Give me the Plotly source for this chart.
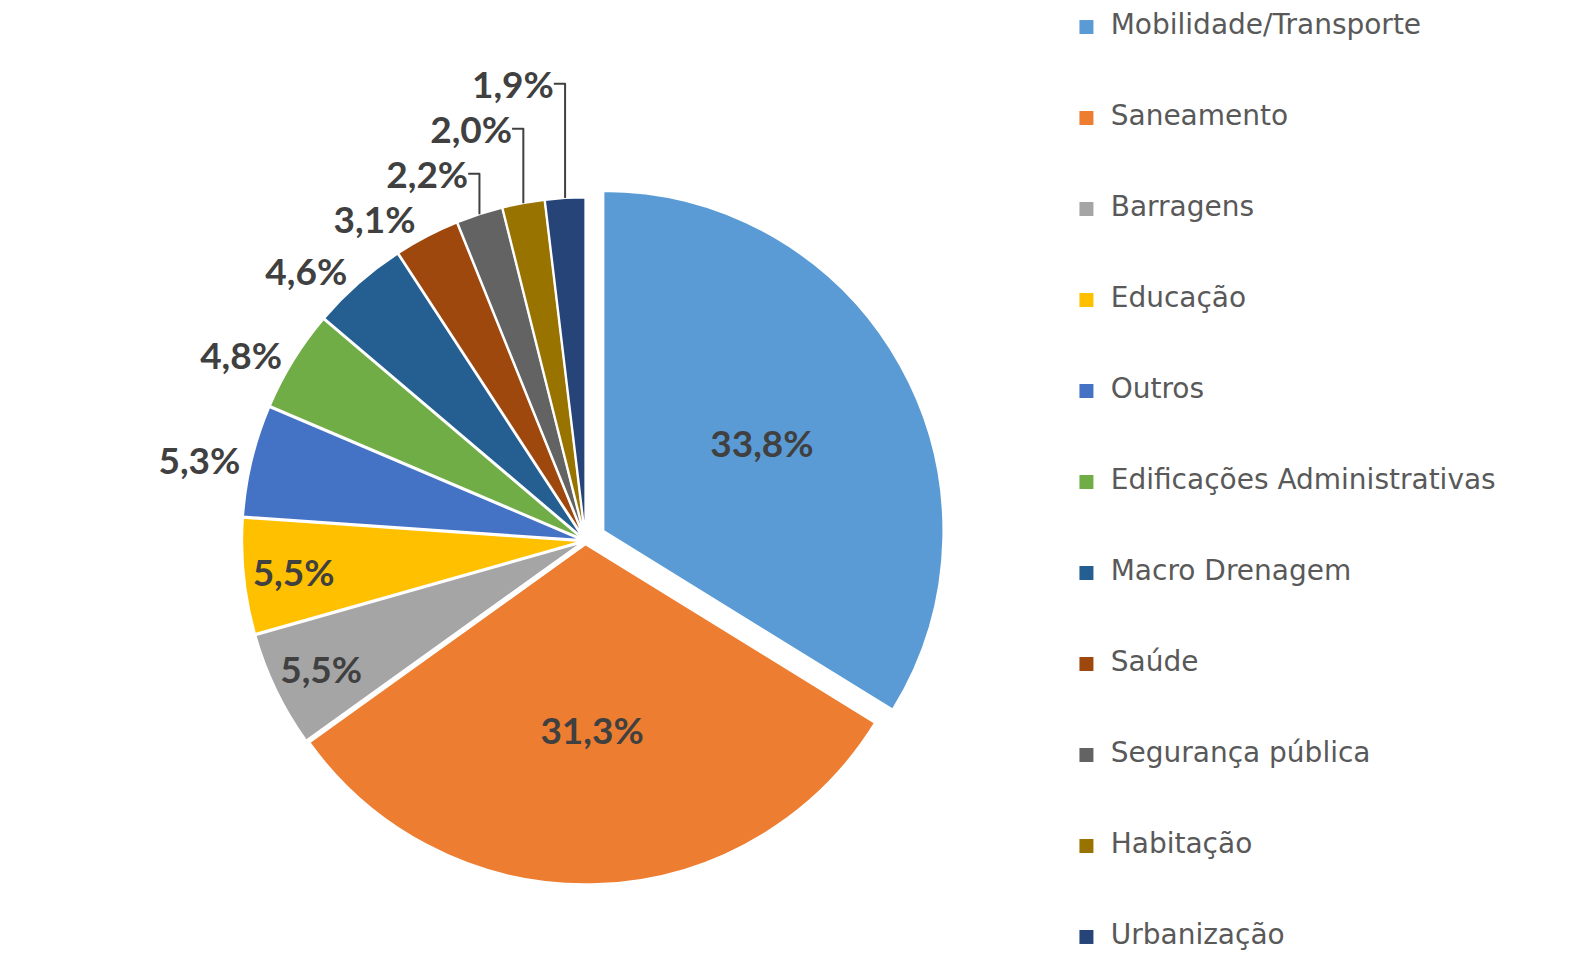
import plotly.graph_objects as go

categories = ["Mobilidade/Transporte", "Saneamento", "Barragens", "Educação", "Outros",
              "Edificações Administrativas", "Macro Drenagem", "Saúde",
              "Segurança pública", "Habitação", "Urbanização"]
values = [33.8, 31.3, 5.5, 5.5, 5.3, 4.8, 4.6, 3.1, 2.2, 2.0, 1.9]
colors = ["#5B9BD5", "#ED7D31", "#A5A5A5", "#FFC000", "#4472C4", "#70AD47",
          "#255E91", "#9E480E", "#636363", "#997300", "#264478"]
text_pos = ["inside", "inside", "inside", "inside", "outside", "outside",
            "outside", "outside", "outside", "outside", "outside"]
pulls = [0.06, 0.01, 0.01, 0.01, 0.01, 0.01, 0.01, 0.01, 0.01, 0.01, 0.01]
legend_rank = list(range(len(categories)))

fig = go.Figure()
fig.add_trace(go.Pie(
    labels=categories, values=values, sort=False, direction="clockwise", rotation=0,
    marker=dict(colors=colors, line=dict(color="white", width=2)),
    texttemplate="%{percent:.1%}", textposition=text_pos, pull=pulls,
    textfont=dict(family="Lato", size=37, color="#404040", weight="bold"),
    insidetextorientation="horizontal",
    domain=dict(x=[0.14, 0.605], y=[0.066, 0.813]), showlegend=False,
    hoverinfo="label+percent",
))
# legend column (swatches + labels)
fig.add_trace(go.Scatter(
    x=[0] * len(categories), y=legend_rank, mode="markers",
    marker=dict(symbol="square", size=14, color=colors),
    showlegend=False, hoverinfo="skip",
))
fig.add_trace(go.Scatter(
    x=[0.05] * len(categories), y=legend_rank, mode="text", text=categories,
    textposition="middle right",
    textfont=dict(family="DejaVu Sans", size=28, color="#595959"),
    showlegend=False, hoverinfo="skip",
))

fig.update_layout(
    width=1572, height=965, separators=",.",
    margin=dict(l=0, r=0, t=0, b=0, autoexpand=False),
    paper_bgcolor="white", plot_bgcolor="rgba(0,0,0,0)",
    showlegend=False,
    xaxis=dict(visible=False, domain=[0.68, 1.0], range=[-0.036, 1.0], fixedrange=True),
    yaxis=dict(visible=False, domain=[0.0, 1.0], range=[10.308, -0.297], fixedrange=True),
)
fig.write_html("out.html")
